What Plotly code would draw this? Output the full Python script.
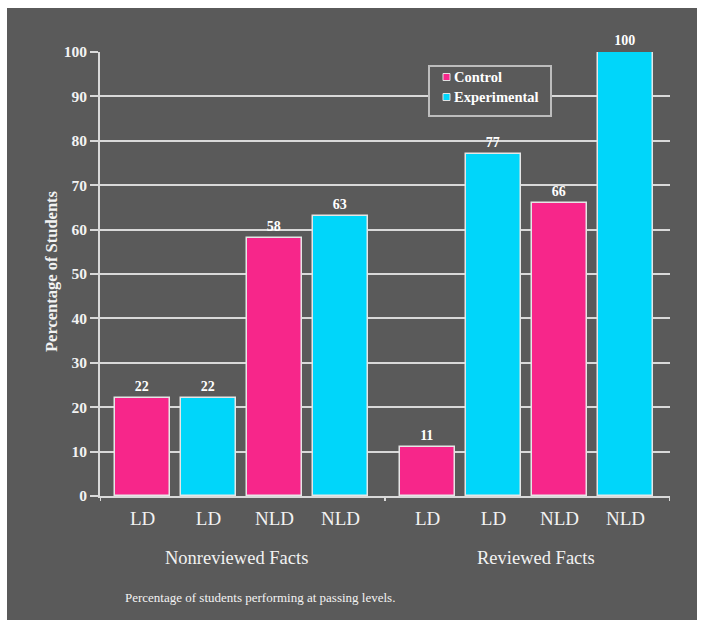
import plotly.graph_objects as go

groups = ["Nonreviewed Facts", "Reviewed Facts"]
bar_labels = ["LD", "LD", "NLD", "NLD"]
bar_series = ["Control", "Experimental", "Control", "Experimental"]
series_names = ["Control", "Experimental"]
values = {
    "Nonreviewed Facts": [22, 22, 58, 63],
    "Reviewed Facts": [11, 77, 66, 100],
}
y_ticks = [0, 10, 20, 30, 40, 50, 60, 70, 80, 90, 100]
caption = "Percentage of students performing at passing levels."
y_title = "Percentage of Students"

colors = {"Control": "#F7268A", "Experimental": "#00D6FA"}
BG = "#5A5A5A"
LINE = "#D9D9D9"
TXT = "#F2F2F2"
FONT = "Liberation Serif"

W, H = 706, 629
ML, MR, MT, MB = 100, 36, 52, 133
PW, PH = W - ML - MR, H - MT - MB


def px(xp):
    return (xp - ML) / PW


def py(yp):
    return (H - MB - yp) / PH


group_width = 4.32
offset = 0.645

fig = go.Figure()
xs = {s: [] for s in series_names}
ys = {s: [] for s in series_names}
tickvals, ticktext = [], []
for gi, g in enumerate(groups):
    for j, (lab, s) in enumerate(zip(bar_labels, bar_series)):
        x = gi * group_width + offset + j
        xs[s].append(x)
        ys[s].append(values[g][j])
        tickvals.append(x)
        ticktext.append(lab)

for s in series_names:
    fig.add_trace(go.Bar(
        x=xs[s], y=ys[s], name=s, width=0.83, showlegend=False,
        marker=dict(color=colors[s], line=dict(color="#E6E6E6", width=1.5)),
        text=[str(v) for v in ys[s]], textposition="outside",
        textfont=dict(family=FONT, size=14, color="white", weight="bold"),
        cliponaxis=False,
    ))

# dark panel
fig.add_shape(type="rect", xref="paper", yref="paper",
              x0=px(7), x1=px(697), y0=py(620), y1=py(8),
              fillcolor=BG, line=dict(width=0), layer="below")

# x-axis divider ticks
for gi in range(len(groups) + 1):
    xv = gi * group_width
    fig.add_shape(type="line", xref="x", yref="paper",
                  x0=xv, x1=xv, y0=0, y1=py(501),
                  line=dict(color=LINE, width=2))

# group labels
group_centers_px = [236, 536]
for g, cx in zip(groups, group_centers_px):
    fig.add_annotation(x=px(cx), xref="paper", y=py(558), yref="paper",
                       text=g, showarrow=False,
                       font=dict(family=FONT, size=18.5, color=TXT),
                       xanchor="center", yanchor="middle")

fig.add_annotation(x=px(123), xref="paper", y=py(597), yref="paper",
                   text=caption, showarrow=False, xanchor="left",
                   yanchor="middle",
                   font=dict(family=FONT, size=13, color=TXT))

fig.add_annotation(x=px(51), xref="paper", y=py(271), yref="paper",
                   text=y_title, showarrow=False, textangle=-90,
                   xanchor="center", yanchor="middle",
                   font=dict(family=FONT, size=16.5, color=TXT,
                             weight="bold"))

# legend (drawn manually)
fig.add_shape(type="rect", xref="paper", yref="paper",
              x0=px(429), x1=px(551), y0=py(116), y1=py(66),
              fillcolor=BG, line=dict(color="#BDBDBD", width=2),
              layer="above")
leg_rows_px = [77, 97]
for s, ry in zip(series_names, leg_rows_px):
    fig.add_shape(type="rect", xref="paper", yref="paper",
                  x0=px(443), x1=px(450), y0=py(ry + 3.5), y1=py(ry - 3.5),
                  fillcolor=colors[s], line=dict(color="#E0E0E0", width=1),
                  layer="above")
    fig.add_annotation(x=px(452), xref="paper", y=py(ry), yref="paper",
                       text=s, showarrow=False, xanchor="left",
                       yanchor="middle",
                       font=dict(family=FONT, size=14.5, color="white",
                                 weight="bold"))

fig.update_layout(
    width=W, height=H,
    margin=dict(l=ML, r=MR, t=MT, b=MB),
    paper_bgcolor="white", plot_bgcolor=BG,
    bargap=0, showlegend=False,
    xaxis=dict(range=[0, 2 * group_width], tickvals=tickvals,
               ticktext=ticktext, showgrid=False, zeroline=False,
               showline=True, linecolor=LINE, linewidth=2, ticks="",
               ticklabelstandoff=4,
               tickfont=dict(family=FONT, size=19, color=TXT)),
    yaxis=dict(range=[0, 100], tickvals=y_ticks, showgrid=True,
               gridcolor=LINE, gridwidth=2, zeroline=False,
               showline=True, linecolor=LINE, linewidth=2,
               ticks="outside", ticklen=8, tickcolor=LINE, tickwidth=2,
               tickfont=dict(family=FONT, size=15.5, color=TXT,
                             weight="bold")),
)

fig.write_html("out.html")
